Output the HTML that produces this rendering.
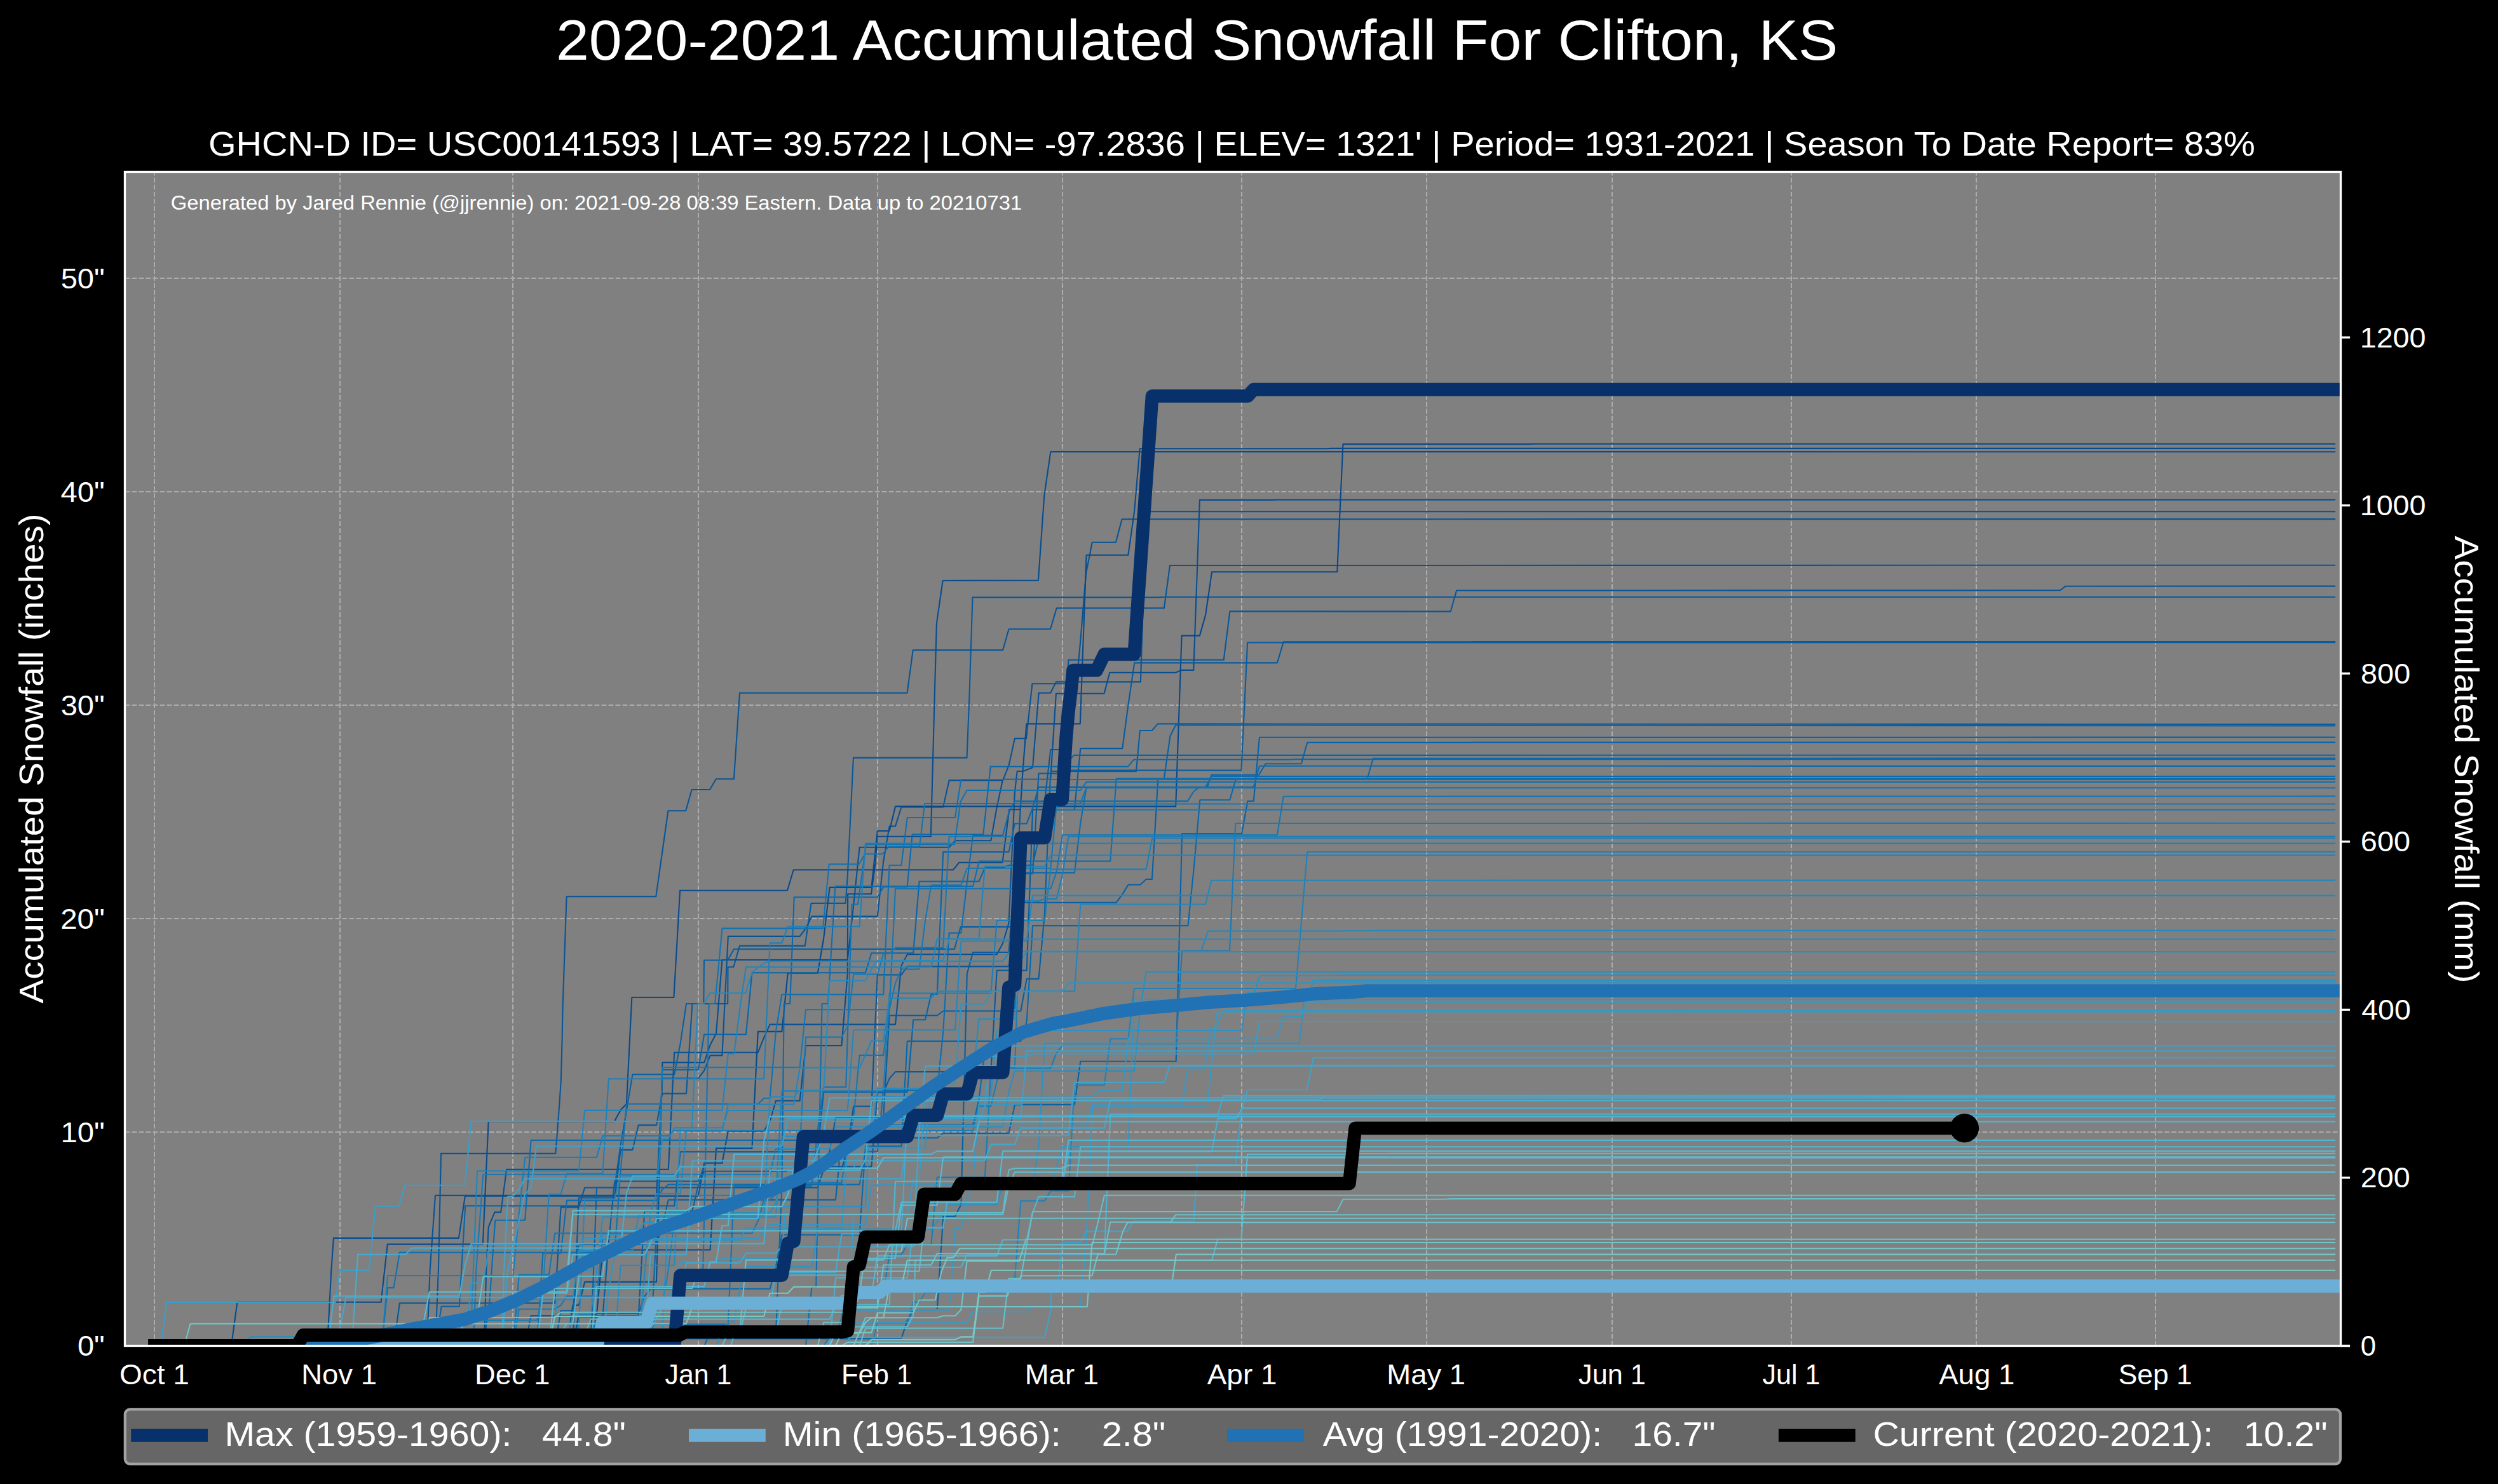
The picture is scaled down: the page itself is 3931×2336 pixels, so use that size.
<!DOCTYPE html>
<html><head><meta charset="utf-8"><title>2020-2021 Accumulated Snowfall For Clifton, KS</title>
<style>html,body{margin:0;padding:0;background:#000;}body{width:3931px;height:2336px;overflow:hidden;font-family:"Liberation Sans",sans-serif;}svg{display:block;}text{font-family:"Liberation Sans",sans-serif;white-space:pre;}</style></head><body>
<svg width="3931" height="2336" viewBox="0 0 3931 2336">
<rect x="0" y="0" width="3931" height="2336" fill="#000"/>
<rect x="196.5" y="270.5" width="3487.0" height="1848.0" fill="#808080"/>
<defs><clipPath id="ax"><rect x="196.5" y="270.5" width="3487.0" height="1848.0"/></clipPath></defs>
<text x="268.86" y="329.60" font-size="30.86" textLength="1339.28" lengthAdjust="spacingAndGlyphs" fill="#fff" xml:space="preserve">Generated by Jared Rennie (@jjrennie) on: 2021-09-28 08:39 Eastern. Data up to 20210731</text>
<path d="M243 2118.5V270.5M535 2118.5V270.5M807 2118.5V270.5M1099 2118.5V270.5M1381 2118.5V270.5M1672 2118.5V270.5M1954 2118.5V270.5M2245 2118.5V270.5M2537 2118.5V270.5M2819 2118.5V270.5M3110 2118.5V270.5M3392 2118.5V270.5M196.5 2118H3683.5M196.5 1782H3683.5M196.5 1446H3683.5M196.5 1110H3683.5M196.5 774H3683.5M196.5 438H3683.5" stroke="#fff" stroke-opacity="0.35" stroke-width="2.08" stroke-dasharray="7.7 3.33" fill="none" clip-path="url(#ax)"/>
<g clip-path="url(#ax)" fill="none" stroke-linejoin="round">
<path d="M243.5 2118.5L685.0 2118.5L689.9 2000.0L694.0 1815.9L874.3 1815.9L876.7 1785.6L880.4 1737.0L882.8 1700.7L884.5 1640.0L885.7 1580.0L891.6 1411.2L1032.3 1411.2L1051.4 1276.3L1079.2 1276.3L1088.6 1243.0L1117.0 1243.0L1126.8 1226.2L1154.9 1226.2L1164.0 1090.7L1427.6 1090.7L1436.7 1023.4L1578.1 1023.4L1587.6 990.3L1653.0 990.3L1662.7 957.3L1831.9 957.3L1841.0 890.0L3674.1 889.7" stroke="#085496" stroke-width="2.08" stroke-linecap="square"/>
<path d="M243.5 2118.5L515.0 2118.5L521.3 2000.0L524.9 1948.9L721.9 1948.9L731.9 1882.6L1023.5 1882.6L1098.8 1882.6L1108.2 1830.7L1136.4 1830.7L1145.8 1780.7L1202.2 1780.7L1211.6 1764.5L1221.0 1732.7L1258.6 1732.7L1268.0 1646.0L1324.4 1646.0L1333.8 1532.1L1333.8 1532.1L1334.1 1407.3L1343.5 1407.3L1371.0 1407.3L1377.5 1358.8L1380.7 1316.8L1464.8 1316.8L1470.6 1100.0L1473.9 981.3L1483.6 914.0L1633.9 913.6L1643.3 780.0L1653.3 711.1L3674.1 711.2" stroke="#084c8e" stroke-width="2.08" stroke-linecap="square"/>
<path d="M243.5 2118.5L900.0 2118.5L901.4 2118.5L910.8 1885.5L967.2 1885.5L976.6 1810.1L995.4 1810.1L1004.8 1771.1L1033.0 1771.1L1042.4 1721.4L1080.0 1721.4L1089.4 1580.0L1145.2 1580.0L1145.5 1522.2L1154.3 1522.2L1164.0 1488.9L1266.8 1488.9L1276.5 1421.9L1330.6 1421.9L1333.8 1378.2L1342.9 1192.9L1521.5 1192.9L1525.3 1100.0L1530.5 940.2L1822.5 940.2L1831.9 939.8L3674.1 939.8" stroke="#08589a" stroke-width="2.08" stroke-linecap="square"/>
<path d="M243.5 2118.5L672.0 2118.5L676.6 2000.0L685.0 1881.9L960.0 1881.9L1033.0 1881.9L1042.4 1697.6L1098.8 1697.6L1108.2 1685.2L1117.6 1661.4L1136.4 1661.4L1145.8 1473.9L1258.6 1473.9L1268.0 1461.5L1277.4 1442.6L1380.8 1442.6L1390.2 1356.0L1399.6 1300.6L1409.0 1300.6L1418.4 1270.5L1484.2 1270.5L1493.6 1228.4L1578.1 1228.4L1587.5 1205.0L1596.9 1162.5L1615.0 1162.5L1624.4 1076.3L1633.8 1076.3L1693.9 1076.3L1700.2 1009.7L1709.0 902.9L1718.7 853.8L1755.9 853.8L1765.6 817.2L3674.1 817.1" stroke="#085294" stroke-width="2.08" stroke-linecap="square"/>
<path d="M243.5 2118.5L364.0 2118.5L373.4 2049.7L599.6 2049.7L609.8 1958.6L759.8 1958.6L768.7 1765.0L966.7 1765.3L977.4 1746.2L985.9 1737.7L994.3 1570.0L1060.4 1570.0L1070.1 1401.8L1239.0 1401.8L1248.7 1369.2L1500.0 1369.2L1509.4 1357.7L1577.5 1357.7L1588.2 1274.3L1605.6 1274.3L1609.5 1214.1L1615.3 1139.4L1699.8 1139.4L1709.6 873.8L1775.3 873.8L1785.0 805.9L1793.7 706.2L2085.7 706.2L2095.1 705.9L3674.1 705.9" stroke="#084a8c" stroke-width="2.08" stroke-linecap="square"/>
<path d="M243.5 2118.5L762.0 2118.5L765.2 2000.0L768.8 1931.1L778.5 1908.1L788.2 1908.1L797.1 1840.9L930.0 1840.9L1051.8 1840.9L1061.2 1656.7L1192.8 1656.7L1202.2 1633.1L1202.2 1633.1L1211.6 1612.6L1409.0 1612.6L1418.4 1519.9L1418.4 1519.9L1427.8 1502.3L1568.7 1502.3L1578.1 1484.7L1578.1 1484.7L1587.5 1453.1L1587.5 1453.1L1596.9 1247.1L1596.9 1247.1L1600.6 1214.0L1610.0 1214.0L1625.0 1208.3L1634.7 1090.8L1653.2 1090.8L1661.9 1073.4L1794.9 1073.4L1803.5 805.2L3674.1 805.2" stroke="#085092" stroke-width="2.08" stroke-linecap="square"/>
<path d="M243.5 2118.5L700.0 2118.5L892.0 2118.5L901.4 2054.6L910.8 2054.6L920.2 2017.9L1033.0 2017.9L1042.4 1672.5L1108.2 1672.5L1117.6 1644.7L1127.0 1626.9L1127.0 1626.9L1136.4 1511.0L1333.8 1511.0L1343.2 1424.7L1352.6 1333.7L1493.6 1333.7L1503.0 1323.3L1559.3 1323.3L1568.7 1270.6L1578.1 1226.7L1606.6 1226.7L1653.2 1226.7L1661.9 1091.8L1737.6 1091.8L1746.3 1058.8L1850.2 1058.8L1858.9 1054.9L1878.3 1054.9L1887.9 787.1L2001.1 787.1L2010.5 786.8L3674.1 786.8" stroke="#084e90" stroke-width="2.08" stroke-linecap="square"/>
<path d="M243.5 2118.5L800.0 2118.5L901.4 2118.5L910.8 2069.2L939.0 2069.2L948.4 1967.5L1117.6 1967.5L1127.0 1807.6L1183.4 1807.6L1192.8 1623.9L1230.4 1623.9L1239.8 1531.6L1286.8 1531.6L1296.2 1477.0L1305.6 1396.9L1371.4 1396.9L1380.8 1308.0L1399.6 1308.0L1409.0 1269.4L1699.8 1269.4L1850.2 1269.4L1859.6 1000.6L1887.9 1000.6L1897.2 967.6L1907.0 900.3L2104.3 900.3L2113.4 699.1L2405.2 699.1L2414.6 698.8L3674.1 698.8" stroke="#08488a" stroke-width="2.08" stroke-linecap="square"/>
<path d="M243.5 2118.5L600.0 2118.5L619.5 2118.5L628.9 2051.3L873.2 2051.3L882.6 1900.1L910.8 1900.1L920.2 1869.5L1286.8 1869.5L1296.2 1840.9L1324.4 1840.9L1333.8 1805.9L1343.2 1741.5L1371.4 1741.5L1380.8 1534.5L1418.4 1534.5L1427.8 1521.4L1587.5 1521.4L1596.9 1442.5L1606.3 1261.9L1643.9 1261.9L1653.3 1180.0L1672.0 1180.0L1681.5 1038.8L1925.7 1038.8L1935.4 962.3L2282.7 962.6L2292.1 929.5L3241.6 929.3L3250.8 922.7L3674.1 922.6" stroke="#085698" stroke-width="2.08" stroke-linecap="square"/>
<path d="M243.5 2118.5L640.0 2118.5L713.4 2118.5L722.8 2107.1L1418.4 2107.1L1427.8 2078.4L1437.2 2062.1L1474.8 2062.1L1484.2 1914.7L1503.0 1914.7L1512.4 1896.0L1512.4 1896.0L1521.8 1532.6L1521.8 1532.6L1531.1 1499.0L1587.5 1499.0L1596.9 1375.2L1625.1 1375.2L1634.5 1217.5L1672.1 1217.5L1681.5 1212.6L1953.4 1212.6L1963.1 1011.5L3674.1 1011.2" stroke="#085c9f" stroke-width="2.08" stroke-linecap="square"/>
<path d="M243.5 2118.5L700.0 2118.5L901.4 2118.5L910.8 2072.8L948.4 2072.8L957.8 1955.8L967.2 1859.5L1098.8 1859.5L1108.2 1836.4L1371.4 1836.4L1380.8 1719.9L1390.2 1719.9L1399.6 1697.8L1409.0 1687.1L1559.3 1687.1L1568.7 1527.5L1615.7 1527.5L1625.1 1274.5L1690.9 1274.5L1700.3 1178.1L1718.7 1178.1L1766.3 1178.1L1775.3 1110.5L1785.2 1043.3L2010.0 1043.4L2019.7 1010.4L2254.9 1010.4L2264.3 1010.3L2311.3 1010.3L2320.7 1010.0L3674.1 1010.0" stroke="#085a9d" stroke-width="2.08" stroke-linecap="square"/>
<path d="M243.5 2118.5L560.0 2118.5L826.2 2118.5L835.6 2071.1L1004.8 2071.1L1014.2 1906.6L1089.4 1906.6L1098.8 1865.8L1108.2 1843.8L1296.2 1843.8L1305.6 1811.4L1315.0 1759.3L1390.2 1759.3L1399.6 1598.5L1474.8 1598.5L1484.2 1591.5L1606.3 1591.5L1615.7 1540.9L1634.5 1540.9L1643.9 1438.0L1643.9 1438.0L1653.3 1214.1L1788.0 1214.1L1793.9 1150.0L1812.7 1150.0L1822.0 1139.4L3674.1 1140.1" stroke="#085da1" stroke-width="2.08" stroke-linecap="square"/>
<path d="M243.5 2118.5L850.0 2118.5L929.6 2118.5L939.0 1869.0L967.2 1869.0L976.6 1802.4L986.0 1747.7L986.0 1747.7L995.4 1691.3L1061.2 1691.3L1070.6 1642.9L1080.0 1580.0L1107.3 1580.0L1108.0 1511.5L1145.2 1511.5L1154.9 1494.0L1502.0 1494.0L1511.7 1459.1L1599.0 1459.1L1599.0 1459.1L1608.4 1420.7L1756.7 1420.7L1766.1 1407.9L1775.5 1392.7L1794.3 1392.7L1803.7 1384.0L1812.9 1384.0L1822.3 1226.7L1831.7 1226.7L1841.4 1158.8L1850.2 1141.3L3674.1 1142.5" stroke="#085fa3" stroke-width="2.08" stroke-linecap="square"/>
<path d="M243.5 2118.5L600.0 2118.5L873.2 2118.5L882.6 2063.3L901.4 2063.3L910.8 1959.0L1033.0 1959.0L1042.4 1928.9L1051.8 1888.6L1315.0 1888.6L1324.4 1791.3L1474.8 1791.3L1484.2 1783.9L1587.5 1783.9L1596.9 1738.9L1690.9 1738.9L1700.3 1670.7L1850.7 1670.7L1860.1 1312.3L1954.0 1312.3L1963.4 1261.0L1972.8 1261.0L1981.9 1160.8L3674.1 1160.6" stroke="#0861a5" stroke-width="2.08" stroke-linecap="square"/>
<path d="M243.5 2118.5L650.0 2118.5L685.2 2118.5L694.6 2056.5L722.8 2056.5L732.2 1898.3L1061.2 1898.3L1070.6 1813.1L1286.8 1813.1L1296.2 1718.9L1427.8 1718.9L1437.2 1605.2L1456.0 1605.2L1465.4 1565.0L1474.8 1565.0L1484.2 1341.1L1587.5 1341.1L1596.9 1296.5L1615.7 1296.5L1625.1 1271.7L1634.5 1239.0L1900.0 1239.0L1906.5 1219.7L1981.0 1219.7L1991.6 1202.2L2047.8 1202.2L2057.2 1168.9L2311.3 1168.9L2320.7 1168.6L3674.1 1168.6" stroke="#0863a7" stroke-width="2.08" stroke-linecap="square"/>
<path d="M243.5 2118.5L600.0 2118.5L1023.6 2118.5L1033.0 1938.1L1033.0 1938.1L1042.4 1684.0L1098.8 1684.0L1108.2 1628.2L1174.0 1628.2L1183.4 1531.2L1362.0 1531.2L1371.4 1500.2L1437.2 1500.2L1446.6 1387.5L1540.5 1387.5L1549.9 1365.7L1578.1 1365.7L1587.5 1362.1L1625.1 1362.1L1634.5 1319.9L1643.9 1260.0L1672.0 1260.0L1681.5 1197.6L1690.0 1188.9L3674.1 1188.7" stroke="#0865a9" stroke-width="2.08" stroke-linecap="square"/>
<path d="M243.5 2118.5L800.0 2118.5L929.6 2118.5L939.0 2067.1L1004.8 2067.1L1014.2 2040.7L1023.6 2028.7L1211.6 2028.7L1221.0 1993.5L1230.4 1943.8L1352.6 1943.8L1362.0 1804.4L1418.4 1804.4L1427.8 1638.9L1606.3 1638.9L1615.7 1608.0L1615.7 1608.0L1625.1 1457.1L1869.5 1457.1L1878.9 1365.0L1888.3 1259.3L1935.3 1259.3L1944.7 1226.8L2151.4 1226.8L2160.8 1193.8L3674.1 1193.5" stroke="#0867ab" stroke-width="2.08" stroke-linecap="square"/>
<path d="M243.5 2118.5L950.0 2118.5L1108.2 2118.5L1117.6 2097.3L1221.0 2097.3L1230.4 1866.2L1230.4 1866.2L1233.8 1580.0L1243.2 1580.0L1249.7 1412.2L1380.7 1412.2L1390.4 1396.0L1427.6 1396.0L1435.7 1313.5L1547.3 1313.5L1558.7 1206.8L1775.0 1206.8L1784.2 1195.7L2029.3 1195.7L2038.7 1195.3L3674.1 1195.3" stroke="#0969ac" stroke-width="2.08" stroke-linecap="square"/>
<path d="M243.5 2118.5L560.0 2118.5L760.4 2118.5L769.8 2056.9L769.8 2056.9L779.2 1920.7L826.2 1920.7L835.6 1794.9L1315.0 1794.9L1324.4 1789.5L1380.8 1789.5L1390.2 1770.7L1531.1 1770.7L1540.5 1731.1L1549.9 1652.2L1578.1 1652.2L1587.5 1586.9L1596.9 1586.9L1606.3 1374.0L1690.9 1374.0L1700.3 1295.4L1709.7 1239.0L1963.4 1239.0L1972.8 1239.0L1981.9 1205.8L3674.1 1205.9" stroke="#0b6bad" stroke-width="2.08" stroke-linecap="square"/>
<path d="M243.5 2118.5L750.0 2118.5L845.0 2118.5L854.4 1972.6L882.6 1972.6L892.0 1889.6L1033.0 1889.6L1042.4 1872.2L1051.8 1864.6L1352.6 1864.6L1362.0 1812.8L1380.8 1812.8L1390.2 1716.2L1474.8 1716.2L1484.2 1624.8L1493.6 1468.6L1512.4 1468.6L1521.8 1388.6L1531.1 1314.9L1578.1 1314.9L1587.5 1279.4L1596.9 1261.1L1868.9 1261.1L1878.3 1246.0L1887.7 1239.0L1897.1 1239.0L1906.5 1222.0L3674.1 1222.0" stroke="#0c6cae" stroke-width="2.08" stroke-linecap="square"/>
<path d="M243.5 2118.5L950.0 2118.5L1268.0 2118.5L1277.4 2025.6L1284.2 2025.6L1293.6 1580.0L1303.0 1580.0L1314.4 1395.1L1531.2 1395.1L1540.9 1355.6L1600.0 1355.6L1747.3 1355.6L1756.7 1225.5L3674.1 1225.5" stroke="#0e6eaf" stroke-width="2.08" stroke-linecap="square"/>
<path d="M243.5 2118.5L600.7 2118.5L610.1 2027.1L619.5 2027.1L628.9 1971.5L967.2 1971.5L976.6 1844.0L976.6 1844.0L986.0 1737.7L1192.8 1737.7L1202.2 1728.8L1211.6 1728.8L1221.0 1623.2L1230.4 1565.5L1390.2 1565.5L1399.6 1362.0L1418.4 1362.0L1427.8 1287.0L1503.0 1287.0L1512.4 1227.0L3674.1 1227.0" stroke="#1070b0" stroke-width="2.08" stroke-linecap="square"/>
<path d="M243.5 2118.5L900.0 2118.5L995.4 2118.5L1004.8 2084.6L1145.8 2084.6L1155.2 1867.0L1277.4 1867.0L1286.8 1778.4L1286.8 1778.4L1296.2 1711.2L1331.2 1711.2L1340.6 1423.5L1350.0 1423.5L1362.9 1329.1L1502.0 1329.1L1511.7 1261.8L1521.5 1244.0L1700.0 1244.0L1700.3 1244.0L1709.7 1230.9L3674.1 1230.9" stroke="#1172b1" stroke-width="2.08" stroke-linecap="square"/>
<path d="M243.5 2118.5L900.0 2118.5L1051.8 2118.5L1061.2 2022.1L1061.2 2022.1L1070.6 1998.8L1106.3 1998.8L1115.7 1580.0L1125.1 1580.0L1136.5 1461.4L1295.0 1461.4L1304.7 1360.4L1351.6 1360.4L1361.3 1344.3L1388.8 1344.3L1398.5 1332.9L1447.0 1332.9L1455.1 1265.0L1700.0 1265.0L1709.4 1240.3L3674.1 1240.3" stroke="#1373b2" stroke-width="2.08" stroke-linecap="square"/>
<path d="M243.5 2118.5L800.0 2118.5L807.4 2118.5L816.8 2006.6L863.8 2006.6L873.2 1941.2L1183.4 1941.2L1192.8 1922.4L1202.2 1888.5L1211.6 1888.5L1221.0 1879.4L1230.4 1861.9L1324.4 1861.9L1333.8 1802.7L1343.2 1760.0L1343.2 1760.0L1352.6 1661.1L1390.2 1661.1L1399.6 1591.0L1399.6 1591.0L1409.0 1398.9L1653.3 1398.9L1662.7 1372.0L1672.1 1314.2L2010.0 1314.2L2019.7 1253.7L3674.1 1253.4" stroke="#1575b2" stroke-width="2.08" stroke-linecap="square"/>
<path d="M243.5 2118.5L807.4 2118.5L816.8 2060.7L873.2 2060.7L882.6 2054.6L892.0 2040.3L939.0 2040.3L948.4 1950.3L1033.0 1950.3L1042.4 1680.3L1258.6 1680.3L1268.0 1589.1L1399.6 1589.1L1409.0 1547.7L1418.4 1525.6L1446.6 1525.6L1456.0 1448.8L1465.4 1393.2L1512.4 1393.2L1521.8 1366.7L1653.3 1366.7L1662.7 1265.5L3674.1 1265.5" stroke="#1677b3" stroke-width="2.08" stroke-linecap="square"/>
<path d="M243.5 2118.5L745.0 2118.5L749.3 2000.0L760.3 1848.7L1000.0 1848.7L1211.6 1848.7L1221.0 1808.5L1258.6 1808.5L1268.0 1632.6L1324.4 1632.6L1333.8 1615.5L1333.8 1615.5L1343.2 1533.6L1380.8 1533.6L1390.2 1501.3L1399.6 1501.3L1409.0 1491.9L1484.2 1491.9L1493.6 1317.0L1643.9 1317.0L1653.3 1274.7L3674.1 1274.7" stroke="#1878b4" stroke-width="2.08" stroke-linecap="square"/>
<path d="M243.5 2118.5L800.0 2118.5L1296.2 2118.5L1305.6 2103.1L1315.0 2103.1L1324.4 2074.3L1333.8 2034.3L1390.2 2034.3L1399.6 1975.2L1418.4 1975.2L1427.8 1959.5L1465.4 1959.5L1474.8 1853.3L1549.9 1853.3L1559.3 1685.4L1559.3 1685.4L1568.7 1681.5L1653.3 1681.5L1662.7 1657.1L1672.1 1645.8L1850.7 1645.8L1860.1 1497.0L1935.0 1497.0L1944.3 1296.0L3674.1 1295.8" stroke="#1a7ab5" stroke-width="2.08" stroke-linecap="square"/>
<path d="M243.5 2118.5L600.7 2118.5L610.1 2008.0L807.4 2008.0L816.8 1910.8L826.2 1821.9L939.0 1821.9L948.4 1788.0L1051.8 1788.0L1061.2 1779.8L1531.1 1779.8L1540.5 1741.4L1559.3 1741.4L1568.7 1702.2L1578.1 1681.8L1596.9 1681.8L1606.3 1418.2L1634.5 1418.2L1643.9 1415.0L1662.7 1415.0L1672.1 1375.7L1681.5 1316.8L3674.1 1316.8" stroke="#1b7cb6" stroke-width="2.08" stroke-linecap="square"/>
<path d="M243.5 2118.5L957.8 2118.5L967.2 2111.5L1023.6 2111.5L1033.0 2053.9L1042.4 2053.9L1051.8 1999.0L1061.2 1920.8L1080.0 1920.8L1089.4 1881.7L1221.0 1881.7L1230.4 1717.4L1390.2 1717.4L1399.6 1563.5L1559.3 1563.5L1568.7 1449.0L1643.9 1449.0L1653.3 1368.4L1803.7 1368.4L1813.1 1319.5L3674.1 1319.5" stroke="#1d7eb7" stroke-width="2.08" stroke-linecap="square"/>
<path d="M243.5 2118.5L638.3 2118.5L647.7 2094.2L666.5 2094.2L675.8 2078.4L845.0 2078.4L854.4 2033.3L854.4 2033.3L863.8 1879.7L882.6 1879.7L892.0 1847.0L948.4 1847.0L957.8 1698.3L1202.2 1698.3L1211.6 1484.4L1230.4 1484.4L1239.8 1458.5L1352.6 1458.5L1362.0 1327.5L3674.1 1327.5" stroke="#1f7fb8" stroke-width="2.08" stroke-linecap="square"/>
<path d="M243.5 2118.5L900.0 2118.5L1371.4 2118.5L1380.8 2082.3L1427.8 2082.3L1437.2 2049.6L1446.6 2049.6L1456.0 2034.5L1578.1 2034.5L1587.5 2024.8L1596.9 2013.4L1596.9 2013.4L1606.3 1890.4L1643.9 1890.4L1653.3 1874.4L1681.5 1874.4L1690.9 1708.0L1737.9 1708.0L1747.3 1635.2L1775.5 1635.2L1784.9 1556.0L2039.0 1556.0L2048.0 1450.0L2057.2 1341.0L3674.1 1340.9" stroke="#2081b9" stroke-width="2.08" stroke-linecap="square"/>
<path d="M243.5 2118.5L704.0 2118.5L713.4 2082.8L741.6 2082.8L751.0 1843.3L910.8 1843.3L920.2 1747.9L1136.4 1747.9L1145.8 1658.7L1155.2 1658.7L1164.6 1585.4L1164.6 1585.4L1174.0 1522.2L1465.4 1522.2L1474.8 1478.0L1540.5 1478.0L1549.9 1363.7L1643.9 1363.7L1653.3 1346.2L3674.1 1346.2" stroke="#2283b9" stroke-width="2.08" stroke-linecap="square"/>
<path d="M243.5 2118.5L800.0 2118.5L1004.8 2118.5L1014.2 2006.3L1023.6 1909.0L1023.6 1909.0L1033.0 1879.1L1070.6 1879.1L1080.0 1780.8L1136.4 1780.8L1145.8 1738.4L1249.2 1738.4L1258.6 1680.8L1352.6 1680.8L1362.0 1660.4L1371.4 1638.6L1390.2 1638.6L1399.6 1571.3L1465.4 1571.3L1474.8 1560.4L1690.9 1560.4L1700.3 1423.5L1897.0 1423.5L1906.5 1385.7L3674.1 1385.6" stroke="#2485ba" stroke-width="2.08" stroke-linecap="square"/>
<path d="M243.5 2118.5L478.5 2118.5L487.9 2101.8L497.3 2093.0L910.8 2093.0L920.2 1887.9L967.2 1887.9L976.6 1851.0L1033.0 1851.0L1042.4 1793.1L1051.8 1793.1L1061.2 1775.3L1136.4 1775.3L1145.8 1748.0L1333.8 1748.0L1343.2 1621.3L1503.0 1621.3L1512.4 1481.5L1615.7 1481.5L1625.1 1409.6L3674.1 1409.6" stroke="#2586bb" stroke-width="2.08" stroke-linecap="square"/>
<path d="M243.5 2118.5L900.0 2118.5L967.2 2118.5L976.6 1991.8L1061.2 1991.8L1070.6 1775.1L1088.8 1775.1L1098.2 1580.0L1107.6 1580.0L1117.0 1563.3L1173.7 1563.3L1183.4 1530.3L1202.8 1515.7L1210.9 1513.1L1578.1 1513.1L1589.4 1497.9L1890.0 1497.9L1900.0 1468.8L1901.6 1465.6L2104.5 1465.6L2113.9 1465.2L2151.5 1465.2L2160.9 1464.9L3674.1 1464.9" stroke="#2788bc" stroke-width="2.08" stroke-linecap="square"/>
<path d="M243.5 2118.5L807.4 2118.5L816.8 2045.7L901.4 2045.7L910.8 1968.7L995.4 1968.7L1004.8 1913.2L1202.2 1913.2L1211.6 1726.4L1249.2 1726.4L1258.6 1716.2L1296.2 1716.2L1305.6 1543.5L1362.0 1543.5L1371.4 1525.6L1380.8 1511.9L1484.2 1511.9L1493.6 1478.6L3674.1 1478.6" stroke="#298abd" stroke-width="2.08" stroke-linecap="square"/>
<path d="M243.5 2118.5L384.5 2118.5L393.9 2104.4L892.0 2104.4L901.4 2070.1L929.6 2070.1L939.0 2000.2L948.4 1915.6L1221.0 1915.6L1230.4 1788.9L1371.4 1788.9L1380.8 1713.2L1521.8 1713.2L1531.1 1695.6L1531.1 1695.6L1540.5 1604.1L1596.9 1604.1L1606.3 1511.7L1606.3 1511.7L1615.7 1498.1L3674.1 1498.1" stroke="#2a8bbe" stroke-width="2.08" stroke-linecap="square"/>
<path d="M243.5 2118.5L769.8 2118.5L779.2 2096.5L1042.4 2096.5L1051.8 1909.1L1211.6 1909.1L1221.0 1892.7L1221.0 1892.7L1230.4 1808.0L1305.6 1808.0L1315.0 1773.6L1578.1 1773.6L1587.5 1718.4L1596.9 1685.9L1784.9 1685.9L1794.3 1588.2L1803.7 1529.9L3674.1 1529.9" stroke="#2c8dbf" stroke-width="2.08" stroke-linecap="square"/>
<path d="M243.5 2118.5L800.0 2118.5L863.8 2118.5L873.2 2076.0L882.6 2000.2L929.6 2000.2L939.0 1983.1L939.0 1983.1L948.4 1943.4L976.6 1943.4L986.0 1936.6L1004.8 1936.6L1014.2 1924.4L1089.4 1924.4L1098.8 1911.6L1108.2 1899.1L1362.0 1899.1L1371.4 1726.0L1559.3 1726.0L1568.7 1622.0L1954.1 1622.0L1963.5 1562.6L1973.8 1562.6L1982.5 1535.8L2095.1 1535.8L2104.5 1535.4L2104.5 1535.4L2113.9 1534.9L3674.1 1534.9" stroke="#2e8fc0" stroke-width="2.08" stroke-linecap="square"/>
<path d="M243.5 2118.5L900.0 2118.5L1127.0 2118.5L1136.4 2095.2L1145.8 2080.5L1155.2 2080.5L1164.6 2027.1L1174.0 1994.1L1277.4 1994.1L1286.8 1934.7L1465.4 1934.7L1474.8 1923.0L1484.2 1906.5L1484.2 1906.5L1493.6 1896.4L1568.7 1896.4L1578.1 1864.1L1625.1 1864.1L1634.5 1803.8L1634.5 1803.8L1643.9 1642.4L2044.6 1642.4L2054.0 1556.0L2063.4 1556.0L2066.6 1543.2L3674.1 1543.2" stroke="#2f91c1" stroke-width="2.08" stroke-linecap="square"/>
<path d="M243.5 2118.5L948.4 2118.5L957.8 2028.8L967.2 1976.1L1014.2 1976.1L1023.6 1952.1L1164.6 1952.1L1174.0 1932.9L1324.4 1932.9L1333.8 1806.6L1456.0 1806.6L1465.4 1706.1L1503.0 1706.1L1512.4 1580.5L1549.9 1580.5L1559.3 1560.9L1672.1 1560.9L1681.5 1547.4L3674.1 1547.4" stroke="#3193c2" stroke-width="2.08" stroke-linecap="square"/>
<path d="M243.5 2118.5L732.2 2118.5L741.6 2019.6L760.4 2019.6L769.8 1959.4L910.8 1959.4L920.2 1949.7L1192.8 1949.7L1202.2 1935.0L1211.6 1928.0L1362.0 1928.0L1371.4 1865.3L1653.3 1865.3L1662.7 1838.5L1662.7 1838.5L1672.1 1804.9L1775.5 1804.9L1784.9 1573.5L3674.1 1573.5" stroke="#3395c3" stroke-width="2.08" stroke-linecap="square"/>
<path d="M243.5 2118.5L900.0 2118.5L1333.8 2118.5L1343.2 2062.1L1493.6 2062.1L1503.0 1933.9L1512.4 1933.9L1521.8 1888.4L1521.8 1888.4L1531.1 1856.8L1531.1 1856.8L1540.5 1737.9L1606.3 1737.9L1615.7 1725.3L1719.1 1725.3L1728.5 1716.6L1766.1 1716.6L1775.5 1633.4L2010.0 1633.4L2019.7 1600.4L2047.2 1600.4L2056.9 1578.8L3674.1 1578.8" stroke="#3597c4" stroke-width="2.08" stroke-linecap="square"/>
<path d="M243.5 2118.5L900.0 2118.5L1004.8 2118.5L1014.2 2042.7L1051.8 2042.7L1061.2 2025.6L1070.6 1987.4L1127.0 1987.4L1136.4 1981.2L1230.4 1981.2L1239.8 1843.6L1343.2 1843.6L1352.6 1793.6L1362.0 1771.9L1709.7 1771.9L1719.1 1737.7L1860.1 1737.7L1869.5 1681.1L1895.8 1681.1L1905.2 1618.2L1914.6 1618.2L1925.2 1590.7L3674.1 1591.0" stroke="#3698c5" stroke-width="2.08" stroke-linecap="square"/>
<path d="M243.5 2118.5L900.0 2118.5L1333.8 2118.5L1343.2 2081.5L1521.8 2081.5L1531.1 2064.5L1615.7 2064.5L1625.1 2055.2L1700.3 2055.2L1709.7 1948.1L1709.7 1948.1L1719.1 1741.0L1900.0 1741.0L1914.6 1594.8L3674.1 1594.8" stroke="#389ac6" stroke-width="2.08" stroke-linecap="square"/>
<path d="M243.5 2118.5L900.0 2118.5L957.8 2118.5L967.2 2099.5L1333.8 2099.5L1343.2 1911.4L1427.8 1911.4L1437.2 1856.8L1446.6 1856.8L1456.0 1716.2L1521.8 1716.2L1531.1 1694.1L1540.5 1663.0L1615.7 1663.0L1625.1 1658.7L1972.8 1658.7L1982.5 1607.9L3674.1 1608.2" stroke="#3a9cc7" stroke-width="2.08" stroke-linecap="square"/>
<path d="M243.5 2118.5L252.9 2118.5L262.3 2050.0L527.9 2050.0L534.9 1999.6L581.1 1999.6L586.7 1939.3L590.9 1898.7L627.9 1898.7L637.1 1865.9L731.6 1865.9L741.4 1765.0L1290.0 1765.0L1540.5 1765.0L1549.9 1741.2L1559.3 1646.4L3674.1 1646.4" stroke="#3b9ec8" stroke-width="2.08" stroke-linecap="square"/>
<path d="M243.5 2118.5L790.0 2118.5L799.0 2000.0L825.8 1880.2L835.5 1870.5L844.0 1804.3L1100.0 1804.3L1230.4 1804.3L1239.8 1761.0L1606.3 1761.0L1615.7 1654.4L3674.1 1654.4" stroke="#3da0c9" stroke-width="2.08" stroke-linecap="square"/>
<path d="M243.5 2118.5L1300.0 2118.5L1300.0 2118.5L1309.4 2105.2L1643.9 2105.2L1653.3 2063.0L1653.3 2063.0L1654.5 2034.0L1663.9 2034.0L1671.7 1955.8L1700.4 1955.8L1709.5 1938.1L1774.5 1938.1L1783.6 1922.5L1878.6 1922.5L1884.0 1833.4L1944.3 1833.4L1953.4 1750.9L1963.1 1715.3L2056.9 1715.3L2066.6 1665.1L3674.1 1664.8" stroke="#3fa2ca" stroke-width="2.08" stroke-linecap="square"/>
<path d="M243.5 2118.5L790.0 2118.5L793.0 2000.0L799.1 1883.8L807.6 1882.6L816.1 1872.9L825.8 1855.4L1150.0 1855.4L1418.4 1855.4L1427.8 1787.2L1681.5 1787.2L1690.9 1703.9L1831.9 1703.9L1841.3 1677.0L3674.1 1677.0" stroke="#40a4cb" stroke-width="2.08" stroke-linecap="square"/>
<path d="M243.5 2118.5L525.5 2118.5L534.9 2093.9L544.3 2042.5L1070.6 2042.5L1080.0 1987.9L1164.6 1987.9L1174.0 1972.6L1221.0 1972.6L1230.4 1962.5L1437.2 1962.5L1446.6 1779.7L1446.6 1779.7L1456.0 1678.0L3674.1 1678.0" stroke="#42a6cc" stroke-width="2.08" stroke-linecap="square"/>
<path d="M243.5 2118.5L900.0 2118.5L1014.2 2118.5L1023.6 1974.6L1080.0 1974.6L1089.4 1827.2L1549.9 1827.2L1559.3 1801.4L1596.9 1801.4L1606.3 1775.6L1737.9 1775.6L1747.3 1731.5L2076.3 1731.5L2084.4 1725.0L2132.7 1725.0L2142.1 1724.9L2160.9 1724.9L2170.3 1724.6L3674.1 1724.6" stroke="#44a7cd" stroke-width="2.08" stroke-linecap="square"/>
<path d="M243.5 2118.5L1000.0 2118.5L1000.0 2118.5L1009.4 2091.6L1023.6 2091.6L1033.0 2075.7L1033.0 2075.7L1042.4 2058.6L1211.6 2058.6L1221.0 2002.9L1315.0 2002.9L1324.4 1942.4L1418.4 1942.4L1427.8 1755.7L1916.2 1755.7L1925.2 1725.0L3674.1 1726.4" stroke="#45a9ce" stroke-width="2.08" stroke-linecap="square"/>
<path d="M243.5 2118.5L553.7 2118.5L563.1 1974.8L638.3 1974.8L647.7 1964.6L976.6 1964.6L986.0 1877.6L986.0 1877.6L995.4 1851.4L1061.2 1851.4L1070.6 1836.6L1277.4 1836.6L1286.8 1810.8L1296.2 1783.2L1296.2 1783.2L1305.6 1728.2L3674.1 1728.2" stroke="#47abcf" stroke-width="2.08" stroke-linecap="square"/>
<path d="M243.5 2118.5L516.1 2118.5L525.5 2040.3L722.8 2040.3L732.2 1989.7L741.6 1957.8L1202.2 1957.8L1211.6 1842.1L1352.6 1842.1L1362.0 1825.3L1362.0 1825.3L1371.4 1732.4L3674.1 1732.4" stroke="#49add0" stroke-width="2.08" stroke-linecap="square"/>
<path d="M243.5 2118.5L1000.0 2118.5L1305.6 2118.5L1315.0 2011.4L1427.8 2011.4L1437.2 1932.6L1484.2 1932.6L1493.6 1871.5L1549.9 1871.5L1559.3 1864.8L1672.1 1864.8L1681.5 1812.6L1907.1 1812.6L1916.5 1760.6L1945.3 1760.6L1955.0 1744.4L3674.1 1744.4" stroke="#4aafd1" stroke-width="2.08" stroke-linecap="square"/>
<path d="M243.5 2118.5L1051.8 2118.5L1061.2 2043.4L1070.6 2007.3L1343.2 2007.3L1352.6 1994.8L1512.4 1994.8L1521.8 1974.5L1737.9 1974.5L1747.3 1753.7L3674.1 1753.7" stroke="#4cb1d2" stroke-width="2.08" stroke-linecap="square"/>
<path d="M243.5 2118.5L845.0 2118.5L854.4 2035.6L892.0 2035.6L901.4 1975.1L1014.2 1975.1L1023.6 1958.0L1033.0 1918.0L1192.8 1918.0L1202.2 1796.3L1202.2 1796.3L1211.6 1757.6L3674.1 1757.6" stroke="#4eb3d3" stroke-width="2.08" stroke-linecap="square"/>
<path d="M243.5 2118.5L929.6 2118.5L939.0 2025.1L1108.2 2025.1L1117.6 1986.6L1127.0 1986.6L1136.4 1929.2L1145.8 1929.2L1155.2 1816.9L1465.4 1816.9L1474.8 1812.1L1531.1 1812.1L1540.5 1765.7L3674.1 1765.7" stroke="#50b4d2" stroke-width="2.08" stroke-linecap="square"/>
<path d="M243.5 2118.5L760.4 2118.5L769.8 2099.3L1221.0 2099.3L1230.4 2053.8L1399.6 2053.8L1409.0 1859.8L1672.1 1859.8L1681.5 1794.9L3674.1 1794.9" stroke="#52b5d2" stroke-width="2.08" stroke-linecap="square"/>
<path d="M243.5 2118.5L910.8 2118.5L920.2 2102.0L929.6 2076.6L1305.6 2076.6L1315.0 2056.9L1324.4 2039.3L1371.4 2039.3L1380.8 1976.9L1568.7 1976.9L1578.1 1951.5L1615.7 1951.5L1625.1 1908.9L1634.5 1883.9L1690.9 1883.9L1700.3 1805.3L3674.1 1805.3" stroke="#54b6d1" stroke-width="2.08" stroke-linecap="square"/>
<path d="M243.5 2118.5L779.2 2118.5L788.6 2098.8L882.6 2098.8L892.0 2083.5L901.4 2083.5L910.8 2009.0L948.4 2009.0L957.8 1937.4L1409.0 1937.4L1418.4 1892.6L1568.7 1892.6L1578.1 1811.9L3674.1 1811.9" stroke="#56b8d0" stroke-width="2.08" stroke-linecap="square"/>
<path d="M243.5 2118.5L1150.0 2118.5L1150.0 2118.5L1159.4 2088.4L1427.8 2088.4L1437.2 2070.6L1437.2 2070.6L1440.6 1983.8L1450.0 1983.8L1907.1 1983.8L1916.2 1950.8L1953.4 1950.8L1963.1 1817.0L2123.3 1817.0L2132.7 1816.0L2179.7 1816.0L2189.1 1815.9L3674.1 1815.9" stroke="#58b9d0" stroke-width="2.08" stroke-linecap="square"/>
<path d="M243.5 2118.5L1136.4 2118.5L1145.8 2098.3L1164.6 2098.3L1174.0 2058.7L1333.8 2058.7L1343.2 2017.3L1352.6 1980.9L1409.0 1980.9L1418.4 1897.0L1474.8 1897.0L1484.2 1821.3L3674.1 1821.3" stroke="#5bbacf" stroke-width="2.08" stroke-linecap="square"/>
<path d="M243.5 2118.5L657.1 2118.5L666.5 2081.9L675.8 2033.6L892.0 2033.6L901.4 1905.9L1080.0 1905.9L1089.4 1899.1L1230.4 1899.1L1239.8 1880.5L1249.2 1838.8L1380.8 1838.8L1390.2 1822.5L3674.1 1822.5" stroke="#5dbbce" stroke-width="2.08" stroke-linecap="square"/>
<path d="M243.5 2118.5L863.8 2118.5L873.2 2028.0L1089.4 2028.0L1098.8 2001.0L1446.6 2001.0L1456.0 1909.1L1578.1 1909.1L1587.5 1841.5L1587.5 1841.5L1596.9 1839.0L1672.1 1839.0L1681.5 1834.3L3674.1 1834.3" stroke="#5fbccd" stroke-width="2.08" stroke-linecap="square"/>
<path d="M243.5 2118.5L713.4 2118.5L722.8 2102.3L732.2 2075.0L751.0 2075.0L760.4 2009.5L892.0 2009.5L901.4 1911.7L1578.1 1911.7L1587.5 1866.4L1596.9 1845.0L3674.1 1845.0" stroke="#61becd" stroke-width="2.08" stroke-linecap="square"/>
<path d="M243.5 2118.5L816.8 2118.5L826.2 2100.0L1089.4 2100.0L1098.8 2092.5L1164.6 2092.5L1174.0 1983.4L1390.2 1983.4L1399.6 1959.4L1719.1 1959.4L1728.5 1921.2L1737.9 1881.8L3674.1 1881.8" stroke="#63bfcc" stroke-width="2.08" stroke-linecap="square"/>
<path d="M243.5 2118.5L1100.0 2118.5L1352.6 2118.5L1362.0 2090.8L1578.1 2090.8L1587.5 2012.8L1606.3 2012.8L1615.7 1958.9L1625.1 1907.1L2103.8 1907.1L2113.5 1887.7L2273.7 1887.7L2283.1 1887.1L3674.1 1887.1" stroke="#65c0cb" stroke-width="2.08" stroke-linecap="square"/>
<path d="M243.5 2118.5L1200.0 2118.5L1286.8 2118.5L1296.2 2081.7L1333.8 2081.7L1343.2 2058.7L1380.8 2058.7L1390.2 1991.3L1465.4 1991.3L1474.8 1973.2L1531.0 1973.2L1738.1 1973.2L1747.2 1923.8L1842.2 1923.8L1850.0 1912.3L3674.1 1912.3" stroke="#68c1ca" stroke-width="2.08" stroke-linecap="square"/>
<path d="M243.5 2118.5L666.5 2118.5L675.8 2074.0L873.2 2074.0L882.6 2065.8L1343.2 2065.8L1352.6 2036.6L1362.0 1969.8L1418.4 1969.8L1427.8 1917.8L3674.1 1917.8" stroke="#6ac2ca" stroke-width="2.08" stroke-linecap="square"/>
<path d="M243.5 2118.5L1300.0 2118.5L1324.4 2118.5L1333.8 2112.9L1531.1 2112.9L1540.5 2040.1L1585.2 2040.1L1594.6 2014.0L1604.0 2014.0L1606.7 2008.3L1718.6 2008.3L1727.7 1974.5L1756.3 1974.5L1766.7 1939.4L1774.5 1924.2L3674.1 1924.2" stroke="#6cc4c9" stroke-width="2.08" stroke-linecap="square"/>
<path d="M243.5 2118.5L1250.0 2118.5L1343.2 2118.5L1352.6 2096.5L1362.0 2074.2L1474.8 2074.2L1484.2 2071.3L1503.0 2071.3L1512.4 2061.8L1512.4 2061.8L1521.6 1984.9L1531.0 1984.9L1604.0 1984.9L1614.5 1950.7L3674.1 1950.7" stroke="#6ec5c8" stroke-width="2.08" stroke-linecap="square"/>
<path d="M243.5 2118.5L290.0 2118.5L299.5 2083.7L860.0 2083.7L1080.0 2083.7L1089.4 2057.0L1510.4 2057.0L1710.8 2057.0L1718.6 1956.0L3674.1 1956.0" stroke="#70c6c8" stroke-width="2.08" stroke-linecap="square"/>
<path d="M243.5 2118.5L1250.0 2118.5L1305.6 2118.5L1315.0 2097.7L1371.4 2097.7L1380.8 2066.5L1437.2 2066.5L1446.6 2046.5L1471.8 2046.5L1481.2 2002.6L1490.6 1979.7L1500.0 1979.7L1510.4 1965.2L3674.1 1965.2" stroke="#72c7c7" stroke-width="2.08" stroke-linecap="square"/>
<path d="M243.5 2118.5L1300.0 2118.5L1315.0 2118.5L1324.4 2098.7L1352.6 2098.7L1362.0 2081.6L1371.4 2074.2L1390.2 2074.2L1399.6 2025.0L1600.0 2025.0L1843.5 2025.0L1850.8 1974.6L3674.1 1974.6" stroke="#75c8c6" stroke-width="2.08" stroke-linecap="square"/>
<path d="M243.5 2118.5L863.8 2118.5L873.2 2072.0L1202.2 2072.0L1211.6 2035.8L1239.8 2035.8L1249.2 2025.6L1418.4 2025.6L1427.8 1983.7L3674.1 1983.7" stroke="#77cac5" stroke-width="2.08" stroke-linecap="square"/>
<path d="M243.5 2118.5L1300.0 2118.5L1362.0 2118.5L1371.4 2108.7L1503.0 2108.7L1512.4 2104.4L1531.1 2104.4L1540.5 2034.0L1550.7 2034.0L1559.8 1999.8L3674.1 1999.8" stroke="#79cbc5" stroke-width="2.08" stroke-linecap="square"/>
<path d="M243.5 2118.5L1061.2 2118.5L1070.6 2007.6L1230.4 2007.6L1239.8 1957.2L1249.2 1953.9L1264.2 1789.2L1427.8 1789.2L1437.2 1755.6L1474.8 1755.6L1484.2 1722.0L1521.7 1722.0L1531.1 1688.4L1578.1 1688.4L1587.5 1554.0L1596.9 1550.7L1606.3 1318.8L1643.9 1318.8L1653.3 1258.3L1671.6 1258.3L1677.6 1161.9L1681.2 1121.3L1686.1 1080.9L1688.6 1055.1L1725.7 1055.1L1737.9 1029.9L1784.9 1029.9L1813.1 623.3L1963.5 623.3L1972.9 613.2L3674.1 613.2" stroke="#08306b" stroke-width="20.83" stroke-linecap="square"/>
<path d="M243.5 2118.5L939.0 2118.5L948.4 2081.5L1017.0 2081.5L1026.4 2051.3L1336.6 2051.3L1346.0 2034.5L1384.5 2034.5L1393.9 2024.4L3674.1 2024.4" stroke="#6baed6" stroke-width="20.83" stroke-linecap="square"/>
<path d="M492.0 2118.5L520.0 2116.0L560.0 2110.0L600.0 2102.0L648.0 2092.0L690.0 2084.5L732.0 2076.7L774.0 2062.7L816.0 2045.2L858.0 2024.6L880.0 2011.7L900.0 2000.5L922.0 1987.6L964.0 1967.4L1006.0 1946.9L1048.0 1930.1L1090.0 1916.7L1132.0 1901.9L1174.0 1887.2L1216.0 1872.1L1258.0 1855.3L1280.0 1843.5L1300.0 1830.0L1327.0 1810.0L1374.0 1778.5L1421.5 1744.5L1468.7 1710.2L1515.8 1679.4L1563.0 1649.2L1610.0 1624.7L1657.0 1611.1L1680.0 1607.0L1700.0 1603.0L1736.0 1595.5L1792.0 1587.7L1848.0 1582.8L1904.0 1577.6L1960.0 1574.3L2016.0 1569.8L2072.0 1564.2L2128.0 1561.9L2151.0 1559.6L3675.0 1559.6" stroke="#2171b5" stroke-width="20.83" stroke-linecap="square"/>
<path d="M243.5 2118.5L467.7 2118.5L477.1 2101.7L1068.7 2101.7L1078.1 2096.7L1324.4 2096.7L1333.8 2095.0L1343.2 1994.2L1352.6 1990.8L1362.0 1947.1L1444.7 1947.1L1454.1 1879.9L1503.0 1879.9L1512.3 1863.1L2123.3 1863.1L2132.7 1775.8L3091.4 1775.8" stroke="#000" stroke-width="20.83" stroke-linecap="square"/>
<circle cx="3091.4" cy="1775.8" r="22.7" fill="#000"/>
</g>
<rect x="196.5" y="270.5" width="3487.0" height="1848.0" fill="none" stroke="#fff" stroke-width="3.33"/>
<text x="3714.65" y="2133.90" font-size="44.09" textLength="24.38" lengthAdjust="spacingAndGlyphs" fill="#fff" xml:space="preserve">0</text>
<text x="3714.87" y="1869.33" font-size="44.09" textLength="77.89" lengthAdjust="spacingAndGlyphs" fill="#fff" xml:space="preserve">200</text>
<text x="3716.27" y="1604.77" font-size="44.09" textLength="77.52" lengthAdjust="spacingAndGlyphs" fill="#fff" xml:space="preserve">400</text>
<text x="3714.86" y="1340.20" font-size="44.09" textLength="78.11" lengthAdjust="spacingAndGlyphs" fill="#fff" xml:space="preserve">600</text>
<text x="3715.09" y="1075.63" font-size="44.09" textLength="78.08" lengthAdjust="spacingAndGlyphs" fill="#fff" xml:space="preserve">800</text>
<text x="3713.70" y="811.07" font-size="44.09" textLength="103.88" lengthAdjust="spacingAndGlyphs" fill="#fff" xml:space="preserve">1000</text>
<text x="3713.70" y="546.50" font-size="44.09" textLength="103.88" lengthAdjust="spacingAndGlyphs" fill="#fff" xml:space="preserve">1200</text>
<path d="M3683.5 2118.5h14.6M3683.5 1853.9h14.6M3683.5 1589.4h14.6M3683.5 1324.8h14.6M3683.5 1060.2h14.6M3683.5 795.7h14.6M3683.5 531.1h14.6" stroke="#fff" stroke-width="3.33" fill="none"/>
<text x="121.96" y="2133.90" font-size="44.09" textLength="42.77" lengthAdjust="spacingAndGlyphs" fill="#fff" xml:space="preserve">0&quot;</text>
<text x="95.50" y="1797.90" font-size="44.09" textLength="69.30" lengthAdjust="spacingAndGlyphs" fill="#fff" xml:space="preserve">10&quot;</text>
<text x="95.22" y="1461.90" font-size="44.09" textLength="69.59" lengthAdjust="spacingAndGlyphs" fill="#fff" xml:space="preserve">20&quot;</text>
<text x="95.70" y="1125.90" font-size="44.09" textLength="69.09" lengthAdjust="spacingAndGlyphs" fill="#fff" xml:space="preserve">30&quot;</text>
<text x="95.60" y="789.90" font-size="44.09" textLength="69.20" lengthAdjust="spacingAndGlyphs" fill="#fff" xml:space="preserve">40&quot;</text>
<text x="95.70" y="453.90" font-size="44.09" textLength="69.09" lengthAdjust="spacingAndGlyphs" fill="#fff" xml:space="preserve">50&quot;</text>
<text x="188.11" y="2178.90" font-size="44.09" textLength="109.75" lengthAdjust="spacingAndGlyphs" fill="#fff" xml:space="preserve">Oct 1</text>
<text x="474.15" y="2178.90" font-size="44.09" textLength="118.93" lengthAdjust="spacingAndGlyphs" fill="#fff" xml:space="preserve">Nov 1</text>
<text x="747.05" y="2178.90" font-size="44.09" textLength="118.27" lengthAdjust="spacingAndGlyphs" fill="#fff" xml:space="preserve">Dec 1</text>
<text x="1046.50" y="2178.90" font-size="44.09" textLength="104.93" lengthAdjust="spacingAndGlyphs" fill="#fff" xml:space="preserve">Jan 1</text>
<text x="1323.97" y="2178.90" font-size="44.09" textLength="111.16" lengthAdjust="spacingAndGlyphs" fill="#fff" xml:space="preserve">Feb 1</text>
<text x="1612.78" y="2178.90" font-size="44.09" textLength="116.16" lengthAdjust="spacingAndGlyphs" fill="#fff" xml:space="preserve">Mar 1</text>
<text x="1899.74" y="2178.90" font-size="44.09" textLength="109.79" lengthAdjust="spacingAndGlyphs" fill="#fff" xml:space="preserve">Apr 1</text>
<text x="2182.37" y="2178.90" font-size="44.09" textLength="123.75" lengthAdjust="spacingAndGlyphs" fill="#fff" xml:space="preserve">May 1</text>
<text x="2484.12" y="2178.90" font-size="44.09" textLength="105.79" lengthAdjust="spacingAndGlyphs" fill="#fff" xml:space="preserve">Jun 1</text>
<text x="2773.48" y="2178.90" font-size="44.09" textLength="91.03" lengthAdjust="spacingAndGlyphs" fill="#fff" xml:space="preserve">Jul 1</text>
<text x="3051.22" y="2178.90" font-size="44.09" textLength="119.09" lengthAdjust="spacingAndGlyphs" fill="#fff" xml:space="preserve">Aug 1</text>
<text x="3333.69" y="2178.90" font-size="44.09" textLength="116.03" lengthAdjust="spacingAndGlyphs" fill="#fff" xml:space="preserve">Sep 1</text>
<text x="874.94" y="94.20" font-size="88.16" textLength="2017.20" lengthAdjust="spacingAndGlyphs" fill="#fff" xml:space="preserve">2020-2021 Accumulated Snowfall For Clifton, KS</text>
<text x="327.90" y="245.30" font-size="52.90" textLength="3221.03" lengthAdjust="spacingAndGlyphs" fill="#fff" xml:space="preserve">GHCN-D ID= USC00141593 | LAT= 39.5722 | LON= -97.2836 | ELEV= 1321' | Period= 1931-2021 | Season To Date Report= 83%</text>
<text x="0.00" y="0.00" font-size="52.90" textLength="770.97" lengthAdjust="spacingAndGlyphs" fill="#fff" transform="translate(68 1579.4) rotate(-90)" xml:space="preserve">Accumulated Snowfall (inches)</text>
<text x="0.00" y="0.00" font-size="52.90" textLength="704.00" lengthAdjust="spacingAndGlyphs" fill="#fff" transform="translate(3863 843.6) rotate(90)" xml:space="preserve">Accumulated Snowfall (mm)</text>
<rect x="196.8" y="2218.4" width="3486.2" height="86.1" rx="8" ry="8" fill="#666" stroke="#a3a3a3" stroke-width="4.17"/>
<path d="M216.6 2259.4h100" stroke="#08306b" stroke-width="20.83" stroke-linecap="square" fill="none"/>
<text x="353.42" y="2276.30" font-size="52.90" textLength="631.46" lengthAdjust="spacingAndGlyphs" fill="#fff" xml:space="preserve">Max (1959-1960):   44.8&quot;</text>
<path d="M1094.4 2259.4h100" stroke="#6baed6" stroke-width="20.83" stroke-linecap="square" fill="none"/>
<text x="1231.70" y="2276.30" font-size="52.90" textLength="602.42" lengthAdjust="spacingAndGlyphs" fill="#fff" xml:space="preserve">Min (1965-1966):    2.8&quot;</text>
<path d="M1941.5 2259.4h100" stroke="#2171b5" stroke-width="20.83" stroke-linecap="square" fill="none"/>
<text x="2081.70" y="2276.30" font-size="52.90" textLength="617.93" lengthAdjust="spacingAndGlyphs" fill="#fff" xml:space="preserve">Avg (1991-2020):   16.7&quot;</text>
<path d="M2809.3 2259.4h100" stroke="#000" stroke-width="20.83" stroke-linecap="square" fill="none"/>
<text x="2947.43" y="2276.30" font-size="52.90" textLength="715.18" lengthAdjust="spacingAndGlyphs" fill="#fff" xml:space="preserve">Current (2020-2021):   10.2&quot;</text>
</svg></body></html>
